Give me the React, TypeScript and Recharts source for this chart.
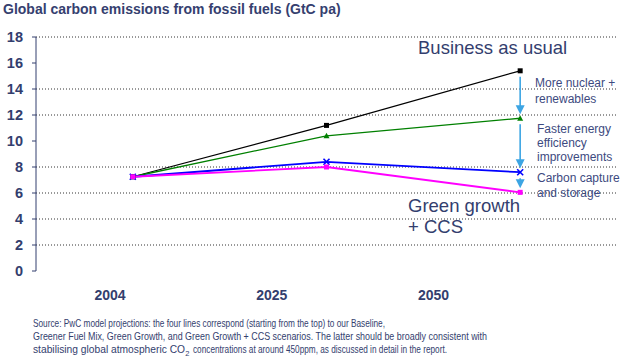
import { LineChart, Line, XAxis, YAxis, CartesianGrid, ReferenceLine } from "recharts"

const categories = ["2004", "2025", "2050"]
const baseline = [7.25, 11.2, 15.4]
const greenerFuelMix = [7.25, 10.4, 11.75]
const greenGrowth = [7.25, 8.4, 7.6]
const greenGrowthCcs = [7.25, 8.0, 6.05]
const yTicks = [0, 2, 4, 6, 8, 10, 12, 14, 16, 18]
const gridValues = [2, 4, 6, 8, 12, 14, 18]
const boundaryTicks = [0, 1, 2, 3]
// where the year labels sit along the axis, in category-band units
const labelTicks = [0.382, 1.2175, 2.0525]

const NAVY = "#333e6e"
const FONT = "Arial, 'Liberation Sans', sans-serif"

const data = categories.map((label, i) => ({
  label,
  pos: i + 0.5,
  baseline: baseline[i],
  greenerFuelMix: greenerFuelMix[i],
  greenGrowth: greenGrowth[i],
  greenGrowthCcs: greenGrowthCcs[i],
}))

const last = categories.length - 1
const arrows = [
  [baseline[last], greenerFuelMix[last]],
  [greenerFuelMix[last], greenGrowth[last]],
  [greenGrowth[last], greenGrowthCcs[last]],
]

const SquareDot = (color: string, size: number) => (props: any) => {
  const { cx, cy, index } = props
  return <rect key={index} x={cx - size / 2} y={cy - size / 2} width={size} height={size} fill={color} />
}

const TriangleDot = (props: any) => {
  const { cx, cy, index } = props
  return <polygon key={index} points={`${cx},${cy - 3} ${cx - 3},${cy + 2.5} ${cx + 3},${cy + 2.5}`} fill="#008000" />
}

const CrossDot = (props: any) => {
  const { cx, cy, index } = props
  return (
    <g key={index} stroke="#0000ff" strokeWidth={1.6}>
      <line x1={cx - 3} y1={cy - 3} x2={cx + 3} y2={cy + 3} />
      <line x1={cx - 3} y1={cy + 3} x2={cx + 3} y2={cy - 3} />
    </g>
  )
}

const ArrowShape = (props: any) => {
  const { x1, y1, x2, y2 } = props
  if ([x1, y1, x2, y2].some((v) => typeof v !== "number")) return null
  const x = x1
  const top = Math.min(y1, y2) + 6
  const bottom = Math.max(y1, y2) - 4
  return (
    <g>
      <line x1={x} y1={top} x2={x} y2={bottom - 8} stroke="#3da5e3" strokeWidth={1.6} />
      <polygon points={`${x},${bottom} ${x - 4.5},${bottom - 9} ${x + 4.5},${bottom - 9}`} fill="#3da5e3" />
    </g>
  )
}

const App = () => {
  return (
    <div style={{ position: "absolute", left: 0, top: 0, width: 626, height: 356, background: "#fff" }}>
      <LineChart width={626} height={356} data={data} margin={{ top: 37, right: 9, left: 0, bottom: 55 }}>
        <CartesianGrid
          xAxisId="bounds"
          vertical={false}
          horizontalValues={gridValues}
          stroke="#333"
          strokeDasharray="1 2"
        />
        <XAxis
          xAxisId="bounds"
          type="number"
          dataKey="pos"
          domain={[0, 3]}
          ticks={boundaryTicks}
          tickFormatter={() => ""}
          height={0}
          tickSize={4}
          axisLine={{ stroke: NAVY }}
          tickLine={{ stroke: NAVY }}
        />
        <XAxis
          xAxisId="labels"
          type="number"
          dataKey="pos"
          domain={[0, 3]}
          ticks={labelTicks}
          interval={0}
          tickFormatter={(_v: number, i: number) => categories[i] ?? ""}
          height={30}
          axisLine={false}
          tickLine={false}
          tickSize={0}
          tickMargin={19}
          tick={{ fill: NAVY, fontSize: 14, fontWeight: "bold", fontFamily: FONT }}
        />
        <YAxis
          domain={[0, 18]}
          ticks={yTicks}
          interval={0}
          width={36}
          tickSize={4}
          tickMargin={9}
          axisLine={{ stroke: NAVY }}
          tickLine={{ stroke: NAVY }}
          tick={{ fill: NAVY, fontSize: 14.5, fontWeight: "bold", fontFamily: FONT }}
        />
        {arrows.map(([from, to], i) => (
          <ReferenceLine
            key={i}
            xAxisId="bounds"
            segment={[
              { x: data[last].pos, y: from },
              { x: data[last].pos, y: to },
            ]}
            shape={ArrowShape}
          />
        ))}
        <Line xAxisId="bounds" dataKey="baseline" stroke="#000" strokeWidth={1.2} dot={SquareDot("#000", 5)} isAnimationActive={false} />
        <Line xAxisId="bounds" dataKey="greenerFuelMix" stroke="#008000" strokeWidth={1.3} dot={TriangleDot} isAnimationActive={false} />
        <Line xAxisId="bounds" dataKey="greenGrowth" stroke="#0000ff" strokeWidth={1.8} dot={CrossDot} isAnimationActive={false} />
        <Line xAxisId="bounds" dataKey="greenGrowthCcs" stroke="#ff00ff" strokeWidth={1.8} dot={SquareDot("#ff00ff", 5)} isAnimationActive={false} />
      </LineChart>
      <svg width={626} height={356} style={{ position: "absolute", left: 0, top: 0, pointerEvents: "none" }} fontFamily={FONT}>
        <text x={3} y={14} fontSize={14} fontWeight="bold" fill="#35406f">
          Global carbon emissions from fossil fuels (GtC pa)
        </text>
        <text x={418} y={54} fontSize={18.5} fill={NAVY}>Business as usual</text>
        <text x={408} y={212} fontSize={18.5} fill={NAVY}>Green growth</text>
        <text x={408} y={233} fontSize={18.5} fill={NAVY}>+ CCS</text>
        <g fontSize={12} fill="#3d4a80">
          <text x={535} y={87}>More nuclear +</text>
          <text x={535} y={103}>renewables</text>
          <text x={537} y={133}>Faster energy</text>
          <text x={537} y={147}>efficiency</text>
          <text x={537} y={161}>improvements</text>
          <text x={537} y={182}>Carbon capture</text>
          <text x={537} y={197}>and storage</text>
        </g>
        <g fontSize={11} fill={NAVY}>
          <text x={33} y={326.5} textLength={352} lengthAdjust="spacingAndGlyphs">
            Source: PwC model projections: the four lines correspond (starting from the top) to our Baseline,
          </text>
          <text x={33} y={340} textLength={454} lengthAdjust="spacingAndGlyphs">
            Greener Fuel Mix, Green Growth, and Green Growth + CCS scenarios. The latter should be broadly consistent with
          </text>
          <text x={33} y={353.3} textLength={152} lengthAdjust="spacingAndGlyphs">
            stabilising global atmospheric CO
          </text>
          <text x={185.3} y={355.5} fontSize={7.5}>2</text>
          <text x={193} y={353.3} textLength={254} lengthAdjust="spacingAndGlyphs">
            concentrations at around 450ppm, as discussed in detail in the report.
          </text>
        </g>
      </svg>
    </div>
  )
}

export default App
